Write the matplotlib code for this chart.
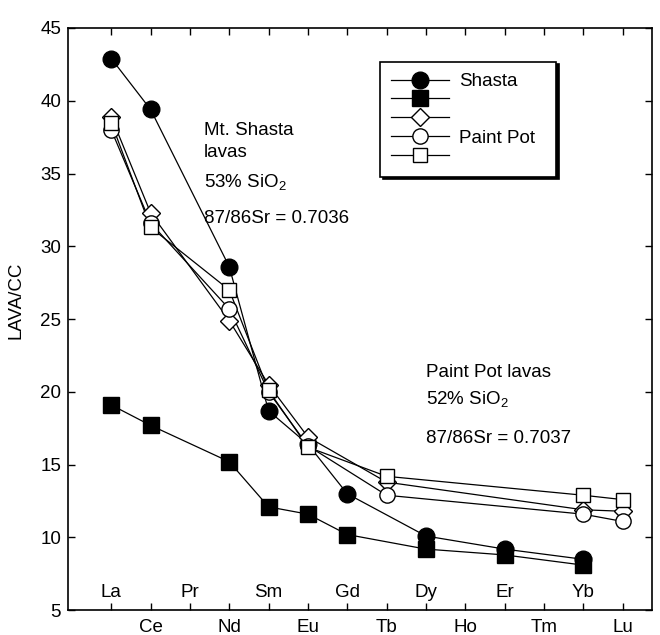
import matplotlib
matplotlib.use("Agg")
import matplotlib.pyplot as plt
from matplotlib.lines import Line2D
import matplotlib.transforms as mtransforms

plt.rcParams['font.family'] = ['Liberation Sans', 'DejaVu Sans']
plt.rcParams['mathtext.fontset'] = 'custom'
plt.rcParams['mathtext.rm'] = 'Liberation Sans'
plt.rcParams['mathtext.it'] = 'Liberation Sans'

elements = ['La', 'Ce', 'Pr', 'Nd', 'Sm', 'Eu', 'Gd', 'Tb', 'Dy', 'Ho', 'Er', 'Tm', 'Yb', 'Lu']

# Shasta lavas
shasta_circ_el = ['La', 'Ce', 'Nd', 'Sm', 'Eu', 'Gd', 'Dy', 'Er', 'Yb']
shasta_circ = [42.9, 39.4, 28.6, 18.7, 16.4, 13.0, 10.1, 9.2, 8.5]
shasta_sq_el = ['La', 'Ce', 'Nd', 'Sm', 'Eu', 'Gd', 'Dy', 'Er', 'Yb']
shasta_sq = [19.1, 17.7, 15.2, 12.1, 11.6, 10.2, 9.2, 8.8, 8.1]

# Paint Pot lavas
pp_el = ['La', 'Ce', 'Nd', 'Sm', 'Eu', 'Tb', 'Yb', 'Lu']
pp_diamond = [38.9, 32.3, 24.9, 20.5, 16.9, 13.8, 11.9, 11.8]
pp_circle = [38.0, 31.6, 25.7, 20.0, 16.3, 12.9, 11.6, 11.1]
pp_square = [38.5, 31.3, 27.0, 20.1, 16.2, 14.2, 12.9, 12.6]

upper_row = ['La', 'Pr', 'Sm', 'Gd', 'Dy', 'Er', 'Yb']
yticks = [5, 10, 15, 20, 25, 30, 35, 40, 45]

fs = 13.5

fig = plt.figure(figsize=(6.6, 6.35), dpi=100)
ax = fig.add_axes([0.103, 0.039, 0.885, 0.917])

def xs(els):
    return [elements.index(e) for e in els]

series = [
    (shasta_sq_el, shasta_sq, dict(marker='s', ms=11, mfc='black', mec='black')),
    (shasta_circ_el, shasta_circ, dict(marker='o', ms=12, mfc='black', mec='black')),
    (pp_el, pp_diamond, dict(marker='D', ms=9, mfc='white', mec='black', mew=1.0)),
    (pp_el, pp_circle, dict(marker='o', ms=11, mfc='white', mec='black', mew=1.0)),
    (pp_el, pp_square, dict(marker='s', ms=9.5, mfc='white', mec='black', mew=1.0)),
]
for i, (els, vals, st) in enumerate(series):
    ax.plot(xs(els), vals, '-', color='black', lw=0.9, zorder=2)
    ax.plot(xs(els), vals, linestyle='none', zorder=3 + i, **st)

ax.set_xlim(-1.1, 13.75)
ax.set_ylim(5, 45)
ax.set_yticks(yticks)
ax.set_yticklabels([str(v) for v in yticks], fontsize=fs)
ax.set_xticks(range(len(elements)))
ax.set_xticklabels([])
ax.tick_params(axis='both', direction='in', length=5, width=1, top=True, right=True)
ax.tick_params(axis='y', pad=5)
for s in ax.spines.values():
    s.set_linewidth(1.2)

trans = mtransforms.blended_transform_factory(ax.transData, ax.transAxes)
for i, el in enumerate(elements):
    if el in upper_row:
        ax.text(i, 0.031, el, transform=trans, ha='center', va='center', fontsize=fs)
    else:
        ax.text(i, -0.029, el, transform=trans, ha='center', va='center', fontsize=fs)

ax.set_ylabel('LAVA/CC', fontsize=fs, labelpad=6)
ax.yaxis.set_label_coords(-0.075, 0.533)

ax.text(2.35, 37.64, 'Mt. Shasta', fontsize=fs, va='baseline', ha='left')
ax.text(2.35, 36.13, 'lavas', fontsize=fs, va='baseline', ha='left')
ax.text(2.35, 34.06, '53% SiO$_2$', fontsize=fs, va='baseline', ha='left')
ax.text(2.35, 31.59, '87/86Sr = 0.7036', fontsize=fs, va='baseline', ha='left')
ax.text(8.0, 21.0, 'Paint Pot lavas', fontsize=fs, va='baseline', ha='left')
ax.text(8.0, 19.2, '52% SiO$_2$', fontsize=fs, va='baseline', ha='left')
ax.text(8.0, 16.5, '87/86Sr = 0.7037', fontsize=fs, va='baseline', ha='left')

handles = []
for els, vals, st in [series[1], series[0], series[2], series[3], series[4]]:
    handles.append(Line2D([0], [0], color='black', lw=0.9, **st))
labels = ['Shasta', ' ', ' ', 'Paint Pot  ', ' ']
leg = ax.legend(handles, labels, loc='upper left', bbox_to_anchor=(0.534, 0.942),
                frameon=True, fancybox=False, shadow={'color': 'black', 'alpha': 1},
                edgecolor='black', framealpha=1, fontsize=fs, handlelength=3.1,
                labelspacing=0.09, borderpad=0.6, handletextpad=0.5, borderaxespad=0)
leg.get_frame().set_linewidth(1.2)

fig.savefig('out.png', dpi=100)
